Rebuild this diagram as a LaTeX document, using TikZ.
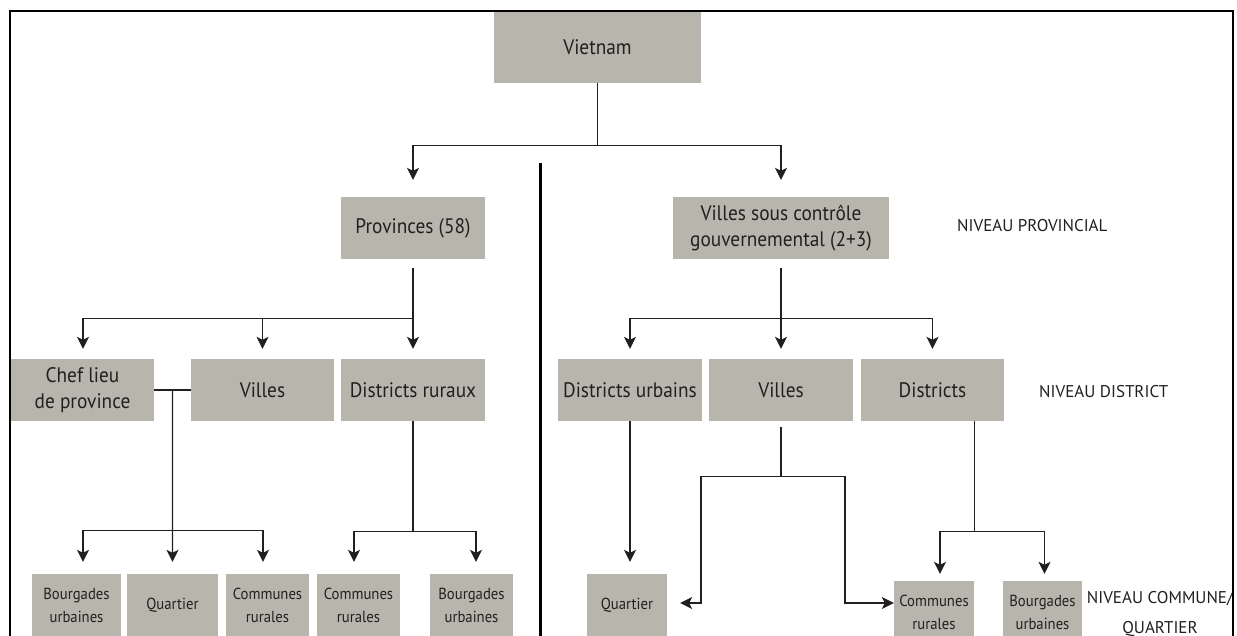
\documentclass[tikz,border=0pt]{standalone}
\usepackage{fontspec}
\setmainfont{PT Sans}
\newfontfamily\boxfont[FakeStretch=0.92]{PT Sans}
\usetikzlibrary{arrows.meta,calc}
\definecolor{boxgray}{RGB}{184,181,173}
\definecolor{ink}{RGB}{35,31,32}
\begin{document}
\begin{tikzpicture}[x=1pt,y=-1pt,
  box/.style={fill=boxgray, inner sep=0pt, text=ink, align=center, font=\boxfont\fontsize{21}{26}\selectfont},
  small/.style={box, font=\boxfont\fontsize{16}{23}\selectfont},
  lvl/.style={text=ink, inner sep=0pt, align=center, font=\fontsize{17}{29}\selectfont},
  conn/.style={line width=1.2pt, draw=ink},
  arr/.style={conn, -{Stealth[length=12pt,width=12pt,inset=3pt]}}]
\useasboundingbox (0,0) rectangle (1237,636);
\clip (0,0) rectangle (1237,636);

% level 0
\node[box, minimum width=207pt, minimum height=71pt] (vn) at (597.5,47.5) {Vietnam};
% level 1
\node[box, minimum width=144pt, minimum height=62pt] (prov) at (413,228) {Provinces (58)};
\node[box, minimum width=216pt, minimum height=62pt] (vg) at (781,228) {Villes sous contrôle\\gouvernemental (2+3)};
% level 2
\node[box, minimum width=143pt, minimum height=62pt] (chef) at (82.5,390) {Chef lieu\\de province};
\node[box, minimum width=143pt, minimum height=62pt] (villesL) at (262.5,390) {Villes};
\node[box, minimum width=144pt, minimum height=62pt] (distR) at (413,390) {Districts ruraux};
\node[box, minimum width=144pt, minimum height=62pt] (distU) at (630,390) {Districts urbains};
\node[box, minimum width=144pt, minimum height=62pt] (villesR) at (781,390) {Villes};
\node[box, minimum width=143pt, minimum height=62pt] (districts) at (932.5,390) {Districts};
% level 3
\node[small, minimum width=89pt, minimum height=62pt] (b1) at (76.5,605) {Bourgades\\urbaines};
\node[small, minimum width=91pt, minimum height=62pt] (b2) at (172.5,605) {Quartier};
\node[small, minimum width=83pt, minimum height=62pt] (b3) at (267.5,605) {Communes\\rurales};
\node[small, minimum width=83pt, minimum height=62pt] (b4) at (358.5,605) {Communes\\rurales};
\node[small, minimum width=83pt, minimum height=62pt] (b5) at (471.5,605) {Bourgades\\urbaines};
\node[small, minimum width=80pt, minimum height=62pt] (qR) at (627,605) {Quartier};
\node[small, minimum width=80pt, minimum height=62pt] (cR) at (934,612) {Communes\\rurales};
\node[small, minimum width=79pt, minimum height=62pt] (bR) at (1042.5,612) {Bourgades\\urbaines};

% level labels
\node[lvl, anchor=west] (lp) at (957,226) {NIVEAU PROVINCIAL};
\node[lvl, anchor=west] (ld) at (1039,392) {NIVEAU DISTRICT};
\node[lvl] (lc) at (1160,614) {NIVEAU COMMUNE/\\QUARTIER};

% connectors level 0 -> 1
\draw[conn] (vn.south) -- ++(0,62) coordinate (vj);
\draw[arr] (vj) -| ($(prov.north)+(0,-17)$);
\draw[arr] (vj) -| ($(vg.north)+(0,-17)$);

% provinces -> level 2
\draw[conn] ($(prov.south)+(0,9)$) -- ++(0,50) coordinate (pj);
\draw[arr] (pj) -- ($(distR.north)+(0,-10)$);
\draw[arr] (pj) -| ($(villesL.north)+(0,-10)$);
\draw[arr] (pj) -| ($(chef.north)+(0.5,-10)$);

% villes gov -> level 2
\draw[conn] ($(vg.south)+(0,9)$) -- ++(0,50) coordinate (gj);
\draw[arr] (gj) -- ($(villesR.north)+(0,-10)$);
\draw[arr] (gj) -| ($(distU.north)+(0,-10)$);
\draw[arr] (gj) -| ($(districts.north)+(0,-10)$);

% chef lieu + villes -> level 3
\draw[conn] (chef.east) -- (villesL.west);
\coordinate (cj) at ($(chef.east)!0.5!(villesL.west)$);
\draw[arr] (cj) -- ($(b2.north)+(0,-12)$);
\coordinate (cl) at ($(b2.north)+(0,-43)$);
\draw[arr] (cl) -| ($(b1.north)+(6.5,-12)$);
\draw[arr] (cl) -| ($(b3.north)+(-4.5,-12)$);

% districts ruraux -> level 3
\draw[conn] (distR.south) -- ++(0,110) coordinate (dj);
\draw[arr] (dj) -| ($(b4.north)+(-4.5,-12)$);
\draw[arr] (dj) -| ($(b5.north)+(4.5,-12)$);

% districts urbains -> quartier
\draw[arr] (distU.south) -- ($(qR.north -| distU.south)+(0,-12)$);

% villes (right) -> quartier, communes
\draw[conn] ($(villesR.south)+(0,6)$) -- ++(0,49) coordinate (vr);
\draw[arr] (vr) -- ++(-80,0) |- ($(qR.east)+(13,-2)$);
\draw[arr] (vr) -- ++(64,0) |- ($(cR.west)+(0,-9)$);

% districts -> communes, bourgades
\draw[conn] ($(districts.south)+(42,0)$) -- ++(0,110) coordinate (dd);
\draw[arr] (dd) -| ($(cR.north)+(6,-7)$);
\draw[arr] (dd) -| ($(bR.north)+(2,-7)$);

% frame and divider
\draw[line width=2pt, draw=black] (10,645) -- (10,11) -- (1233,11) -- (1233,645);
\draw[line width=3pt, draw=black] (540,163) -- (540,645);
\end{tikzpicture}
\end{document}
